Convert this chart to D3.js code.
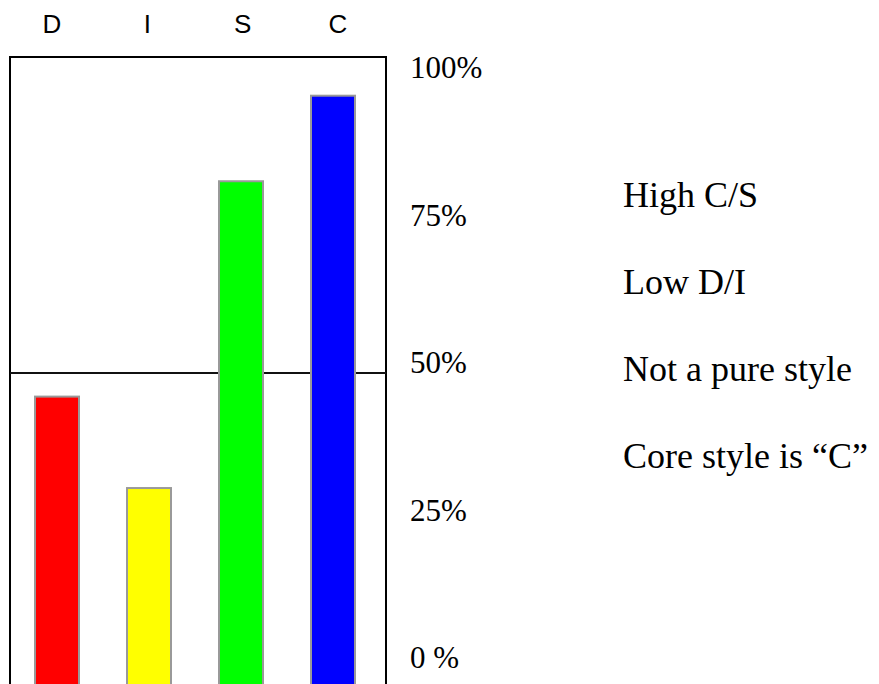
<!DOCTYPE html>
<html>
<head>
<meta charset="utf-8">
<script src="https://cdn.jsdelivr.net/npm/d3@7"></script>
<style>
  html, body { margin: 0; padding: 0; background: #fff; }
  svg { display: block; }
  .sans { font-family: "Liberation Sans", Arial, sans-serif; }
  .serif { font-family: "Liberation Serif", "Times New Roman", serif; }
</style>
</head>
<body>
<svg id="chart" width="879" height="684"></svg>
<script>
// ---- data ----
const categories = ["D", "I", "S", "C"];
const values = [46, 30.5, 82.5, 97];          // percent
const colors = ["#ff0000", "#ffff00", "#00ff00", "#0000ff"];
const tickValues = [100, 75, 50, 25, 0];
const tickLabels = ["100%", "75%", "50%", "25%", "0 %"];
const midValue = 50;
const notes = ["High C/S", "Low D/I", "Not a pure style", "Core style is \u201CC\u201D"];

// ---- layout ----
const W = 879, H = 684;
const frame = { x0: 10, x1: 386, top: 57 };
const svg = d3.select("#chart");

const y = d3.scaleLinear().domain([0, 100]).range([668, 78]);
const x = d3.scaleBand().domain(categories).range([11, 379])
  .paddingInner(0.5217).paddingOuter(0.26085);
const xLabel = d3.scalePoint().domain(categories).range([52, 338]);
const yNotes = d3.scalePoint().domain(notes).range([207, 468]);

// frame (open at bottom, extends past the image)
svg.append("path")
  .attr("d", `M${frame.x0},${H + 10}V${frame.top}H${frame.x1}V${H + 10}`)
  .attr("fill", "none").attr("stroke", "#000").attr("stroke-width", 2);

// 50% line
svg.append("line")
  .attr("x1", frame.x0).attr("x2", frame.x1)
  .attr("y1", y(midValue)).attr("y2", y(midValue))
  .attr("stroke", "#111").attr("stroke-width", 2);

// bars
svg.append("g").selectAll("rect").data(categories).join("rect")
  .attr("x", d => x(d))
  .attr("width", x.bandwidth())
  .attr("y", (d, i) => y(values[i]))
  .attr("height", (d, i) => y(-5) - y(values[i]))
  .attr("fill", (d, i) => colors[i])
  .attr("stroke", "#999").attr("stroke-width", 2);

// category header labels
svg.append("g").attr("class", "sans").selectAll("text").data(categories).join("text")
  .attr("x", d => xLabel(d)).attr("y", 33)
  .attr("text-anchor", "middle")
  .style("font-size", "26px").attr("fill", "#000")
  .text(d => d);

// percent labels on the right of the frame
svg.append("g").attr("class", "serif").selectAll("text").data(tickValues).join("text")
  .attr("x", 410).attr("y", d => y(d))
  .style("font-size", "31px").attr("fill", "#000")
  .text((d, i) => tickLabels[i]);

// notes
svg.append("g").attr("class", "serif").selectAll("text").data(notes).join("text")
  .attr("x", 623).attr("y", d => yNotes(d))
  .style("font-size", "36px").attr("fill", "#000")
  .text(d => d);
</script>
</body>
</html>
